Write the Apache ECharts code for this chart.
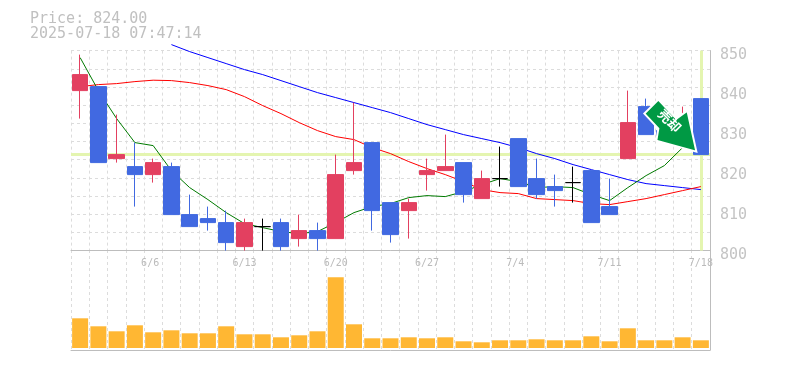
<!DOCTYPE html>
<html>
<head>
<meta charset="utf-8">
<script src="https://cdn.jsdelivr.net/npm/echarts@6/dist/echarts.min.js"></script>
<style>html,body{margin:0;padding:0;background:#fff}#c{width:785px;height:370px}</style>
</head>
<body>
<div id="c"></div>
<script>
const categories = ['5/30','6/2','6/3','6/4','6/5','6/6','6/9','6/10','6/11','6/12','6/13','6/16','6/17','6/18','6/19','6/20','6/23','6/24','6/25','6/26','6/27','6/30','7/1','7/2','7/3','7/4','7/7','7/8','7/9','7/10','7/11','7/14','7/15','7/16','7/17'];
const labelIdx = [4,9,14,19,24,29,34];
const labelText = ['6/6','6/13','6/20','6/27','7/4','7/11','7/18'];
const opens  = [840,841,823,821,819,821,809,808,807,801,806,807,803,805,803,820,827,812,810,819,820,822,813,818,828,818,816,817,820,811,823,836,830,829,838];
const closes = [844,822,824,819,822,809,806,807,802,807,806,801,805,803,819,822,810,804,812,820,821,814,818,818,816,814,815,817,807,809,832,829,828,832,824];
const lows   = [833,822,822,811,817,809,806,805,800,800,800,800,801,800,803,819,805,802,803,815,820,812,813,816,816,813,811,812,807,809,823,829,828,829,824];
const highs  = [849,841,834,827,823,822,814,811,810,808,808,808,809,807,824,837,827,812,813,823,829,822,820,826,828,823,819,821,820,818,840,838,830,836,838];
const ma5  = [848.25,840,833,827,826.25,820,815.75,812.75,809.5,806.75,805.75,804.75,804.25,804.75,807,809.5,811,811.75,813.25,813.75,813.5,814.75,816.5,818,817.25,815.75,816,815.75,814,812.5,815.75,818.75,821.25,825.75,828.75];
const ma25 = [841,841.5,841.75,842.25,842.6,842.5,842,841.25,840.25,838.5,836.25,834.25,832,830,828.5,827.75,825.75,824.25,822.25,820.5,819,817.25,815.25,814.5,814.25,813,812.75,812.5,811.75,811.5,812.25,813,814,815,816];
const ma75 = [null,null,null,null,null,851.5,849.75,848.25,846.75,845.25,844,842.5,841,839.5,838.25,837,835.75,834.5,833,831.5,830.25,829,828,827,825.75,824.25,823,821.5,820.25,819,817.75,816.75,816.25,815.75,815.25];
const volumes = [297,217,167,227,157,177,147,147,217,137,137,107,127,167,707,237,97,97,107,97,107,67,57,77,77,87,77,77,117,67,197,77,77,107,77];
const priceNow = 824;
const headline = 'Price: 824.00';
const stamp = '2025-07-18 07:47:14';
const signalText = '売却';

const MONO = '"DejaVu Sans Mono", monospace';
const GREY = '#bdbdbd';
const RED = '#E34060';
const BLUE = '#4169E1';
const candle = opens.map((o,i)=>[o,closes[i],lows[i],highs[i]]);
const dash = {show:true,interval:0,lineStyle:{color:'#dcdcdc',type:[3,3],width:1}};

const chart = echarts.init(document.getElementById('c'),null,{renderer:'canvas'});
chart.setOption({
  animation:false,
  backgroundColor:'#fff',
  title:{text:headline+'\n'+stamp,left:30,top:12,padding:0,textStyle:{fontFamily:MONO,fontSize:15,fontWeight:'normal',color:'#c0c0c0',lineHeight:15}},
  grid:[{left:71,top:50.6,width:639,height:200},{left:71,top:250,width:639,height:100}],
  xAxis:[
    {type:'category',gridIndex:0,data:categories,boundaryGap:true,
      axisLine:{show:true,onZero:false,lineStyle:{color:GREY}},axisTick:{show:false},
      axisLabel:{interval:i=>labelIdx.includes(i),formatter:(v,i)=>(labelText[labelIdx.indexOf(i)]||'').padEnd(4,' '),color:'#bbb',fontFamily:MONO,fontSize:10,margin:8},
      splitLine:dash},
    {type:'category',gridIndex:1,data:categories,boundaryGap:true,
      axisLine:{show:true,onZero:false,lineStyle:{color:GREY}},axisTick:{show:false},axisLabel:{show:false},
      splitLine:dash}
  ],
  yAxis:[
    {type:'value',gridIndex:0,position:'right',min:800,max:850,interval:10,
      axisLine:{show:true,lineStyle:{color:GREY}},axisTick:{show:false},splitLine:{show:false},
      axisLabel:{color:'#c4c4c4',fontFamily:MONO,fontSize:15,margin:10,verticalAlign:'top',lineHeight:6,padding:[2,0,0,0]}},
    {type:'value',gridIndex:0,position:'left',min:0,max:11,interval:1,
      axisLine:{show:false},axisTick:{show:false},axisLabel:{show:false},
      splitLine:{show:true,lineStyle:{color:'#dcdcdc',type:[3,3],width:1}}},
    {type:'value',gridIndex:1,position:'right',min:-20,max:980,
      axisLine:{show:true,lineStyle:{color:GREY}},axisTick:{show:false},axisLabel:{show:false},splitLine:{show:false}}
  ],
  series:[
    {type:'line',name:'now',xAxisIndex:0,yAxisIndex:0,data:[],z:1,silent:true,
      markLine:{silent:true,symbol:'none',label:{show:false},animation:false,z:1,
        lineStyle:{color:'#e4f5b0',width:3,type:'solid'},
        data:[{yAxis:priceNow},{xAxis:categories[34]}]}},
    {type:'line',name:'ma75',xAxisIndex:0,yAxisIndex:0,data:ma75,showSymbol:false,clip:false,z:2,lineStyle:{color:'#0000ff',width:1}},
    {type:'line',name:'ma25',xAxisIndex:0,yAxisIndex:0,data:ma25,showSymbol:false,clip:false,z:2,lineStyle:{color:'#ff0000',width:1}},
    {type:'line',name:'ma5',xAxisIndex:0,yAxisIndex:0,data:ma5,showSymbol:false,clip:false,z:2,lineStyle:{color:'#007a00',width:1}},
    {type:'candlestick',name:'price',xAxisIndex:0,yAxisIndex:0,data:candle,barWidth:16,z:3,
      itemStyle:{color:RED,color0:BLUE,borderColor:RED,borderColor0:BLUE,borderColorDoji:'#000',borderWidth:1}},
    {type:'bar',name:'volume',xAxisIndex:1,yAxisIndex:2,data:volumes,barWidth:16,z:3,itemStyle:{color:'#FFB733'}},
    {type:'line',name:'signal',xAxisIndex:0,yAxisIndex:0,data:[],z:10,
      markPoint:{z:10,silent:true,animation:false,
        data:[{coord:[categories[32],831.25],
          symbol:'path://M14 0 L0 14 L14 29 L12 41 L52 52 L43 11 L32 19 Z',
          symbolSize:[52,52],symbolKeepAspect:false,symbolOffset:[6,0],
          itemStyle:{color:'#009944',borderColor:'#fff',borderWidth:2},
          label:{show:true,position:'inside',formatter:signalText,rotate:-45,offset:[-4,-3],color:'#fff',fontFamily:'"Noto Sans CJK JP"',fontWeight:'bold',fontSize:13}}]}}
  ]
});
</script>
</body>
</html>
